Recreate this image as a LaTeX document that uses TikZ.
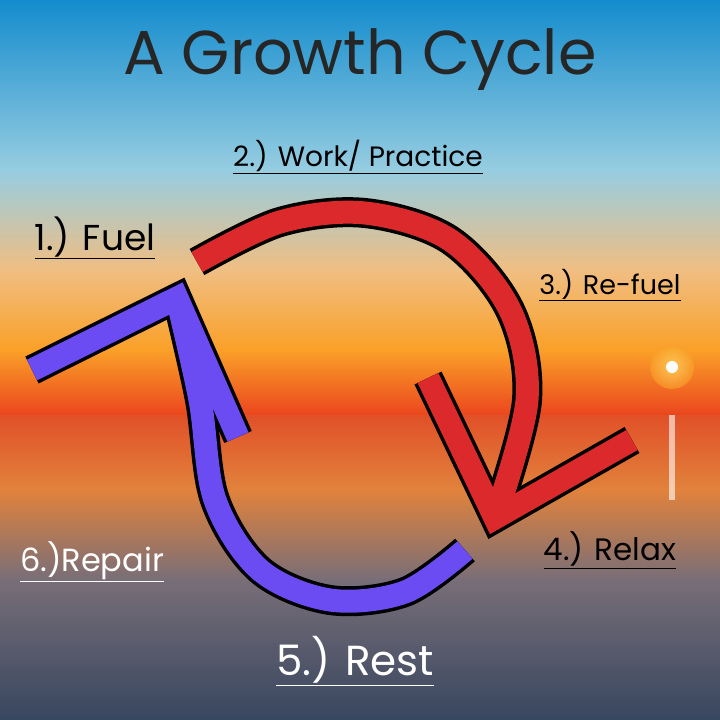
\documentclass[tikz,border=0pt]{standalone}
\usepackage{fontspec}
\setmainfont{Poppins}
\begin{document}
\begin{tikzpicture}[x=1pt,y=-1pt,
  outl/.style={line width=30pt,draw=black,line join=miter,line cap=butt},
  redfill/.style={line width=23pt,draw=arrred,line join=miter,line cap=butt},
  bluefill/.style={line width=23pt,draw=arrblue,line join=miter,line cap=butt},
  lbl/.style={inner sep=0pt,font=\fontsize{#1}{#1}\selectfont}]
\definecolor{arrred}{HTML}{DC2A2C}
\definecolor{arrblue}{HTML}{6A4CF2}
\useasboundingbox (0,0) rectangle (720,720);
% sky
\shade[top color={rgb,255:red,20;green,140;blue,205},bottom color={rgb,255:red,150;green,205;blue,225}] (0,0) rectangle (720,170);
\shade[top color={rgb,255:red,150;green,205;blue,225},bottom color={rgb,255:red,240;green,190;blue,130}] (0,170) rectangle (720,270);
\shade[top color={rgb,255:red,240;green,190;blue,130},bottom color={rgb,255:red,250;green,160;blue,40}] (0,270) rectangle (720,350);
\shade[top color={rgb,255:red,250;green,160;blue,40},bottom color={rgb,255:red,235;green,70;blue,30}] (0,350) rectangle (720,415);
% sea
\shade[top color={rgb,255:red,225;green,80;blue,40},bottom color={rgb,255:red,225;green,130;blue,60}] (0,415) rectangle (720,490);
\shade[top color={rgb,255:red,225;green,130;blue,60},bottom color={rgb,255:red,120;green,110;blue,120}] (0,490) rectangle (720,580);
\shade[top color={rgb,255:red,120;green,110;blue,120},bottom color={rgb,255:red,55;green,70;blue,95}] (0,580) rectangle (720,720);
% sun
\shade[inner color={rgb,255:red,255;green,235;blue,120},outer color={rgb,255:red,250;green,160;blue,40},opacity=0.6] (672,367) circle (22);
\fill[white] (672,367) circle (6);
\fill[white,opacity=0.6] (669,415) rectangle (675,500);
% red arrow
\def\redpath{plot[smooth,tension=0.55] coordinates {(197,262) (280,222) (365,213) (450,240) (510,310) (527,400) (495,518)}}
\draw[outl] \redpath;
\draw[outl] (428,378) -- (495,518) -- (632,440);
\draw[redfill] \redpath;
\draw[redfill] (428,378) -- (495,518) -- (632,440);
% blue arrow
\def\bluepath{plot[smooth,tension=0.55] coordinates {(465,550) (405,592) (330,600) (260,570) (215,500) (200,400) (177,298)}}
\draw[outl] \bluepath;
\draw[outl] (32,370) -- (177,298) -- (238,437);
\draw[bluefill] \bluepath;
\draw[bluefill] (32,370) -- (177,298) -- (238,437);
% texts
\node[lbl=62,text=black!85] (title) at (360,60) {A Growth Cycle};
\node[lbl=28] (work) at (358,157) {\underline{2.) Work/ Practice}};
\node[lbl=36] (fuel) at (95,238) {\underline{1.) Fuel}};
\node[lbl=27] (refuel) at (610,285) {\underline{3.) Re-fuel}};
\node[lbl=31] (relax) at (610,550) {\underline{4.) Relax}};
\node[lbl=32,text=white] (repair) at (92,562) {\underline{6.)Repair}};
\node[lbl=42,text=white] (rest) at (355,661) {\underline{5.) Rest}};
\end{tikzpicture}
\end{document}
